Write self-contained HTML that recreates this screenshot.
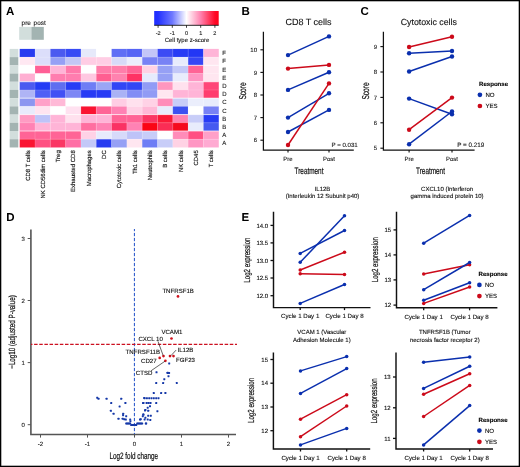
<!DOCTYPE html><html><head><meta charset="utf-8"><style>html,body{margin:0;padding:0;background:#fff;}svg{display:block;will-change:transform;}text{text-rendering:geometricPrecision;}text{font-family:"Liberation Sans",sans-serif;}</style></head><body>
<svg width="520" height="467" viewBox="0 0 520 467">
<rect x="0" y="0" width="520" height="467" fill="#fff"/>
<text x="5.9" y="15.0" font-size="11.5" font-weight="bold" fill="#000">A</text>
<text x="241.6" y="15.1" font-size="11.5" font-weight="bold" fill="#000">B</text>
<text x="360.4" y="15.1" font-size="11.5" font-weight="bold" fill="#000">C</text>
<text x="6.3" y="220.7" font-size="11.5" font-weight="bold" fill="#000">D</text>
<text x="241.6" y="220.8" font-size="11.5" font-weight="bold" fill="#000">E</text>
<g>
<rect x="9.7" y="48.90" width="8.6" height="8.26" fill="rgb(210, 222, 220)"/>
<rect x="19.70" y="48.90" width="15.36" height="8.26" fill="rgb(40, 60, 240)"/>
<rect x="35.01" y="48.90" width="15.36" height="8.26" fill="rgb(220, 222, 250)"/>
<rect x="50.32" y="48.90" width="15.36" height="8.26" fill="rgb(75, 90, 240)"/>
<rect x="65.63" y="48.90" width="15.36" height="8.26" fill="rgb(55, 75, 245)"/>
<rect x="80.94" y="48.90" width="15.36" height="8.26" fill="rgb(230, 233, 250)"/>
<rect x="96.25" y="48.90" width="15.36" height="8.26" fill="rgb(255, 255, 255)"/>
<rect x="111.56" y="48.90" width="15.36" height="8.26" fill="rgb(95, 110, 245)"/>
<rect x="126.87" y="48.90" width="15.36" height="8.26" fill="rgb(85, 100, 245)"/>
<rect x="142.18" y="48.90" width="15.36" height="8.26" fill="rgb(195, 198, 248)"/>
<rect x="157.49" y="48.90" width="15.36" height="8.26" fill="rgb(60, 75, 245)"/>
<rect x="172.80" y="48.90" width="15.36" height="8.26" fill="rgb(40, 60, 245)"/>
<rect x="188.11" y="48.90" width="15.36" height="8.26" fill="rgb(35, 55, 245)"/>
<rect x="203.42" y="48.90" width="15.36" height="8.26" fill="rgb(255, 180, 215)"/>
<rect x="9.7" y="57.11" width="8.6" height="8.26" fill="rgb(163, 180, 178)"/>
<rect x="19.70" y="57.11" width="15.36" height="8.26" fill="rgb(255, 232, 242)"/>
<rect x="35.01" y="57.11" width="15.36" height="8.26" fill="rgb(220, 222, 250)"/>
<rect x="50.32" y="57.11" width="15.36" height="8.26" fill="rgb(150, 160, 245)"/>
<rect x="65.63" y="57.11" width="15.36" height="8.26" fill="rgb(195, 198, 245)"/>
<rect x="80.94" y="57.11" width="15.36" height="8.26" fill="rgb(255, 205, 228)"/>
<rect x="96.25" y="57.11" width="15.36" height="8.26" fill="rgb(255, 205, 228)"/>
<rect x="111.56" y="57.11" width="15.36" height="8.26" fill="rgb(215, 218, 248)"/>
<rect x="126.87" y="57.11" width="15.36" height="8.26" fill="rgb(235, 237, 252)"/>
<rect x="142.18" y="57.11" width="15.36" height="8.26" fill="rgb(120, 130, 245)"/>
<rect x="157.49" y="57.11" width="15.36" height="8.26" fill="rgb(120, 130, 245)"/>
<rect x="172.80" y="57.11" width="15.36" height="8.26" fill="rgb(232, 235, 252)"/>
<rect x="188.11" y="57.11" width="15.36" height="8.26" fill="rgb(55, 70, 245)"/>
<rect x="203.42" y="57.11" width="15.36" height="8.26" fill="rgb(255, 230, 240)"/>
<rect x="9.7" y="65.32" width="8.6" height="8.26" fill="rgb(210, 222, 220)"/>
<rect x="19.70" y="65.32" width="15.36" height="8.26" fill="rgb(255, 255, 255)"/>
<rect x="35.01" y="65.32" width="15.36" height="8.26" fill="rgb(255, 95, 150)"/>
<rect x="50.32" y="65.32" width="15.36" height="8.26" fill="rgb(255, 180, 215)"/>
<rect x="65.63" y="65.32" width="15.36" height="8.26" fill="rgb(255, 120, 170)"/>
<rect x="80.94" y="65.32" width="15.36" height="8.26" fill="rgb(255, 255, 255)"/>
<rect x="96.25" y="65.32" width="15.36" height="8.26" fill="rgb(255, 125, 170)"/>
<rect x="111.56" y="65.32" width="15.36" height="8.26" fill="rgb(255, 125, 170)"/>
<rect x="126.87" y="65.32" width="15.36" height="8.26" fill="rgb(255, 100, 150)"/>
<rect x="142.18" y="65.32" width="15.36" height="8.26" fill="rgb(255, 210, 228)"/>
<rect x="157.49" y="65.32" width="15.36" height="8.26" fill="rgb(150, 160, 245)"/>
<rect x="172.80" y="65.32" width="15.36" height="8.26" fill="rgb(195, 200, 248)"/>
<rect x="188.11" y="65.32" width="15.36" height="8.26" fill="rgb(255, 100, 150)"/>
<rect x="203.42" y="65.32" width="15.36" height="8.26" fill="rgb(255, 230, 240)"/>
<rect x="9.7" y="73.53" width="8.6" height="8.26" fill="rgb(163, 180, 178)"/>
<rect x="19.70" y="73.53" width="15.36" height="8.26" fill="rgb(255, 175, 210)"/>
<rect x="35.01" y="73.53" width="15.36" height="8.26" fill="rgb(255, 255, 255)"/>
<rect x="50.32" y="73.53" width="15.36" height="8.26" fill="rgb(255, 125, 175)"/>
<rect x="65.63" y="73.53" width="15.36" height="8.26" fill="rgb(255, 125, 175)"/>
<rect x="80.94" y="73.53" width="15.36" height="8.26" fill="rgb(255, 200, 225)"/>
<rect x="96.25" y="73.53" width="15.36" height="8.26" fill="rgb(255, 95, 145)"/>
<rect x="111.56" y="73.53" width="15.36" height="8.26" fill="rgb(255, 130, 175)"/>
<rect x="126.87" y="73.53" width="15.36" height="8.26" fill="rgb(255, 50, 100)"/>
<rect x="142.18" y="73.53" width="15.36" height="8.26" fill="rgb(230, 235, 252)"/>
<rect x="157.49" y="73.53" width="15.36" height="8.26" fill="rgb(150, 160, 245)"/>
<rect x="172.80" y="73.53" width="15.36" height="8.26" fill="rgb(232, 236, 252)"/>
<rect x="188.11" y="73.53" width="15.36" height="8.26" fill="rgb(255, 150, 195)"/>
<rect x="203.42" y="73.53" width="15.36" height="8.26" fill="rgb(255, 230, 240)"/>
<rect x="9.7" y="81.74" width="8.6" height="8.26" fill="rgb(210, 222, 220)"/>
<rect x="19.70" y="81.74" width="15.36" height="8.26" fill="rgb(75, 90, 240)"/>
<rect x="35.01" y="81.74" width="15.36" height="8.26" fill="rgb(35, 60, 245)"/>
<rect x="50.32" y="81.74" width="15.36" height="8.26" fill="rgb(95, 110, 240)"/>
<rect x="65.63" y="81.74" width="15.36" height="8.26" fill="rgb(40, 60, 245)"/>
<rect x="80.94" y="81.74" width="15.36" height="8.26" fill="rgb(110, 125, 245)"/>
<rect x="96.25" y="81.74" width="15.36" height="8.26" fill="rgb(155, 165, 245)"/>
<rect x="111.56" y="81.74" width="15.36" height="8.26" fill="rgb(50, 70, 245)"/>
<rect x="126.87" y="81.74" width="15.36" height="8.26" fill="rgb(50, 70, 245)"/>
<rect x="142.18" y="81.74" width="15.36" height="8.26" fill="rgb(145, 155, 245)"/>
<rect x="157.49" y="81.74" width="15.36" height="8.26" fill="rgb(255, 150, 190)"/>
<rect x="172.80" y="81.74" width="15.36" height="8.26" fill="rgb(255, 225, 238)"/>
<rect x="188.11" y="81.74" width="15.36" height="8.26" fill="rgb(255, 180, 215)"/>
<rect x="203.42" y="81.74" width="15.36" height="8.26" fill="rgb(255, 70, 120)"/>
<rect x="9.7" y="89.95" width="8.6" height="8.26" fill="rgb(163, 180, 178)"/>
<rect x="19.70" y="89.95" width="15.36" height="8.26" fill="rgb(175, 180, 245)"/>
<rect x="35.01" y="89.95" width="15.36" height="8.26" fill="rgb(80, 95, 245)"/>
<rect x="50.32" y="89.95" width="15.36" height="8.26" fill="rgb(65, 80, 245)"/>
<rect x="65.63" y="89.95" width="15.36" height="8.26" fill="rgb(125, 135, 245)"/>
<rect x="80.94" y="89.95" width="15.36" height="8.26" fill="rgb(40, 60, 245)"/>
<rect x="96.25" y="89.95" width="15.36" height="8.26" fill="rgb(40, 60, 245)"/>
<rect x="111.56" y="89.95" width="15.36" height="8.26" fill="rgb(170, 178, 245)"/>
<rect x="126.87" y="89.95" width="15.36" height="8.26" fill="rgb(130, 140, 245)"/>
<rect x="142.18" y="89.95" width="15.36" height="8.26" fill="rgb(145, 155, 245)"/>
<rect x="157.49" y="89.95" width="15.36" height="8.26" fill="rgb(255, 230, 240)"/>
<rect x="172.80" y="89.95" width="15.36" height="8.26" fill="rgb(255, 180, 215)"/>
<rect x="188.11" y="89.95" width="15.36" height="8.26" fill="rgb(255, 180, 215)"/>
<rect x="203.42" y="89.95" width="15.36" height="8.26" fill="rgb(255, 60, 110)"/>
<rect x="9.7" y="98.16" width="8.6" height="8.26" fill="rgb(210, 222, 220)"/>
<rect x="19.70" y="98.16" width="15.36" height="8.26" fill="rgb(140, 150, 240)"/>
<rect x="35.01" y="98.16" width="15.36" height="8.26" fill="rgb(255, 160, 200)"/>
<rect x="50.32" y="98.16" width="15.36" height="8.26" fill="rgb(255, 185, 215)"/>
<rect x="65.63" y="98.16" width="15.36" height="8.26" fill="rgb(255, 255, 255)"/>
<rect x="80.94" y="98.16" width="15.36" height="8.26" fill="rgb(255, 255, 255)"/>
<rect x="96.25" y="98.16" width="15.36" height="8.26" fill="rgb(255, 255, 255)"/>
<rect x="111.56" y="98.16" width="15.36" height="8.26" fill="rgb(255, 205, 228)"/>
<rect x="126.87" y="98.16" width="15.36" height="8.26" fill="rgb(255, 225, 238)"/>
<rect x="142.18" y="98.16" width="15.36" height="8.26" fill="rgb(255, 210, 230)"/>
<rect x="157.49" y="98.16" width="15.36" height="8.26" fill="rgb(255, 140, 185)"/>
<rect x="172.80" y="98.16" width="15.36" height="8.26" fill="rgb(200, 205, 248)"/>
<rect x="188.11" y="98.16" width="15.36" height="8.26" fill="rgb(235, 238, 252)"/>
<rect x="203.42" y="98.16" width="15.36" height="8.26" fill="rgb(232, 236, 252)"/>
<rect x="9.7" y="106.37" width="8.6" height="8.26" fill="rgb(163, 180, 178)"/>
<rect x="19.70" y="106.37" width="15.36" height="8.26" fill="rgb(232, 235, 252)"/>
<rect x="35.01" y="106.37" width="15.36" height="8.26" fill="rgb(255, 228, 240)"/>
<rect x="50.32" y="106.37" width="15.36" height="8.26" fill="rgb(255, 255, 255)"/>
<rect x="65.63" y="106.37" width="15.36" height="8.26" fill="rgb(255, 225, 240)"/>
<rect x="80.94" y="106.37" width="15.36" height="8.26" fill="rgb(250, 20, 50)"/>
<rect x="96.25" y="106.37" width="15.36" height="8.26" fill="rgb(255, 100, 150)"/>
<rect x="111.56" y="106.37" width="15.36" height="8.26" fill="rgb(255, 130, 180)"/>
<rect x="126.87" y="106.37" width="15.36" height="8.26" fill="rgb(255, 210, 230)"/>
<rect x="142.18" y="106.37" width="15.36" height="8.26" fill="rgb(255, 185, 215)"/>
<rect x="157.49" y="106.37" width="15.36" height="8.26" fill="rgb(232, 236, 252)"/>
<rect x="172.80" y="106.37" width="15.36" height="8.26" fill="rgb(60, 80, 240)"/>
<rect x="188.11" y="106.37" width="15.36" height="8.26" fill="rgb(255, 255, 255)"/>
<rect x="203.42" y="106.37" width="15.36" height="8.26" fill="rgb(120, 130, 245)"/>
<rect x="9.7" y="114.58" width="8.6" height="8.26" fill="rgb(210, 222, 220)"/>
<rect x="19.70" y="114.58" width="15.36" height="8.26" fill="rgb(255, 155, 195)"/>
<rect x="35.01" y="114.58" width="15.36" height="8.26" fill="rgb(190, 195, 248)"/>
<rect x="50.32" y="114.58" width="15.36" height="8.26" fill="rgb(255, 180, 215)"/>
<rect x="65.63" y="114.58" width="15.36" height="8.26" fill="rgb(255, 225, 238)"/>
<rect x="80.94" y="114.58" width="15.36" height="8.26" fill="rgb(255, 180, 215)"/>
<rect x="96.25" y="114.58" width="15.36" height="8.26" fill="rgb(255, 180, 215)"/>
<rect x="111.56" y="114.58" width="15.36" height="8.26" fill="rgb(255, 100, 150)"/>
<rect x="126.87" y="114.58" width="15.36" height="8.26" fill="rgb(255, 100, 150)"/>
<rect x="142.18" y="114.58" width="15.36" height="8.26" fill="rgb(250, 55, 100)"/>
<rect x="157.49" y="114.58" width="15.36" height="8.26" fill="rgb(250, 25, 55)"/>
<rect x="172.80" y="114.58" width="15.36" height="8.26" fill="rgb(255, 130, 175)"/>
<rect x="188.11" y="114.58" width="15.36" height="8.26" fill="rgb(200, 205, 248)"/>
<rect x="203.42" y="114.58" width="15.36" height="8.26" fill="rgb(40, 60, 245)"/>
<rect x="9.7" y="122.79" width="8.6" height="8.26" fill="rgb(163, 180, 178)"/>
<rect x="19.70" y="122.79" width="15.36" height="8.26" fill="rgb(255, 130, 180)"/>
<rect x="35.01" y="122.79" width="15.36" height="8.26" fill="rgb(255, 180, 215)"/>
<rect x="50.32" y="122.79" width="15.36" height="8.26" fill="rgb(255, 180, 215)"/>
<rect x="65.63" y="122.79" width="15.36" height="8.26" fill="rgb(255, 180, 215)"/>
<rect x="80.94" y="122.79" width="15.36" height="8.26" fill="rgb(255, 110, 160)"/>
<rect x="96.25" y="122.79" width="15.36" height="8.26" fill="rgb(255, 130, 180)"/>
<rect x="111.56" y="122.79" width="15.36" height="8.26" fill="rgb(250, 50, 100)"/>
<rect x="126.87" y="122.79" width="15.36" height="8.26" fill="rgb(255, 130, 180)"/>
<rect x="142.18" y="122.79" width="15.36" height="8.26" fill="rgb(250, 5, 20)"/>
<rect x="157.49" y="122.79" width="15.36" height="8.26" fill="rgb(250, 45, 85)"/>
<rect x="172.80" y="122.79" width="15.36" height="8.26" fill="rgb(245, 10, 30)"/>
<rect x="188.11" y="122.79" width="15.36" height="8.26" fill="rgb(232, 236, 252)"/>
<rect x="203.42" y="122.79" width="15.36" height="8.26" fill="rgb(70, 90, 240)"/>
<rect x="9.7" y="131.00" width="8.6" height="8.26" fill="rgb(210, 222, 220)"/>
<rect x="19.70" y="131.00" width="15.36" height="8.26" fill="rgb(255, 100, 150)"/>
<rect x="35.01" y="131.00" width="15.36" height="8.26" fill="rgb(255, 100, 150)"/>
<rect x="50.32" y="131.00" width="15.36" height="8.26" fill="rgb(255, 100, 150)"/>
<rect x="65.63" y="131.00" width="15.36" height="8.26" fill="rgb(255, 100, 150)"/>
<rect x="80.94" y="131.00" width="15.36" height="8.26" fill="rgb(255, 210, 230)"/>
<rect x="96.25" y="131.00" width="15.36" height="8.26" fill="rgb(232, 235, 252)"/>
<rect x="111.56" y="131.00" width="15.36" height="8.26" fill="rgb(215, 218, 250)"/>
<rect x="126.87" y="131.00" width="15.36" height="8.26" fill="rgb(190, 195, 248)"/>
<rect x="142.18" y="131.00" width="15.36" height="8.26" fill="rgb(200, 205, 248)"/>
<rect x="157.49" y="131.00" width="15.36" height="8.26" fill="rgb(255, 255, 255)"/>
<rect x="172.80" y="131.00" width="15.36" height="8.26" fill="rgb(255, 140, 185)"/>
<rect x="188.11" y="131.00" width="15.36" height="8.26" fill="rgb(255, 80, 130)"/>
<rect x="203.42" y="131.00" width="15.36" height="8.26" fill="rgb(255, 160, 200)"/>
<rect x="9.7" y="139.21" width="8.6" height="8.26" fill="rgb(163, 180, 178)"/>
<rect x="19.70" y="139.21" width="15.36" height="8.26" fill="rgb(250, 20, 50)"/>
<rect x="35.01" y="139.21" width="15.36" height="8.26" fill="rgb(255, 80, 130)"/>
<rect x="50.32" y="139.21" width="15.36" height="8.26" fill="rgb(250, 55, 100)"/>
<rect x="65.63" y="139.21" width="15.36" height="8.26" fill="rgb(255, 110, 165)"/>
<rect x="80.94" y="139.21" width="15.36" height="8.26" fill="rgb(195, 200, 248)"/>
<rect x="96.25" y="139.21" width="15.36" height="8.26" fill="rgb(40, 60, 240)"/>
<rect x="111.56" y="139.21" width="15.36" height="8.26" fill="rgb(150, 160, 245)"/>
<rect x="126.87" y="139.21" width="15.36" height="8.26" fill="rgb(255, 230, 240)"/>
<rect x="142.18" y="139.21" width="15.36" height="8.26" fill="rgb(110, 125, 245)"/>
<rect x="157.49" y="139.21" width="15.36" height="8.26" fill="rgb(200, 205, 248)"/>
<rect x="172.80" y="139.21" width="15.36" height="8.26" fill="rgb(255, 210, 228)"/>
<rect x="188.11" y="139.21" width="15.36" height="8.26" fill="rgb(255, 150, 195)"/>
<rect x="203.42" y="139.21" width="15.36" height="8.26" fill="rgb(255, 170, 210)"/>
<line x1="35.01" y1="48.9" x2="35.01" y2="147.42" stroke="#fff" stroke-width="0.3" stroke-opacity="0.5"/>
<line x1="50.32" y1="48.9" x2="50.32" y2="147.42" stroke="#fff" stroke-width="0.3" stroke-opacity="0.5"/>
<line x1="65.63" y1="48.9" x2="65.63" y2="147.42" stroke="#fff" stroke-width="0.3" stroke-opacity="0.5"/>
<line x1="80.94" y1="48.9" x2="80.94" y2="147.42" stroke="#fff" stroke-width="0.3" stroke-opacity="0.5"/>
<line x1="96.25" y1="48.9" x2="96.25" y2="147.42" stroke="#fff" stroke-width="0.3" stroke-opacity="0.5"/>
<line x1="111.56" y1="48.9" x2="111.56" y2="147.42" stroke="#fff" stroke-width="0.3" stroke-opacity="0.5"/>
<line x1="126.87" y1="48.9" x2="126.87" y2="147.42" stroke="#fff" stroke-width="0.3" stroke-opacity="0.5"/>
<line x1="142.18" y1="48.9" x2="142.18" y2="147.42" stroke="#fff" stroke-width="0.3" stroke-opacity="0.5"/>
<line x1="157.49" y1="48.9" x2="157.49" y2="147.42" stroke="#fff" stroke-width="0.3" stroke-opacity="0.5"/>
<line x1="172.80" y1="48.9" x2="172.80" y2="147.42" stroke="#fff" stroke-width="0.3" stroke-opacity="0.5"/>
<line x1="188.11" y1="48.9" x2="188.11" y2="147.42" stroke="#fff" stroke-width="0.3" stroke-opacity="0.5"/>
<line x1="203.42" y1="48.9" x2="203.42" y2="147.42" stroke="#fff" stroke-width="0.3" stroke-opacity="0.5"/>
<line x1="19.7" y1="57.11" x2="218.73" y2="57.11" stroke="#fff" stroke-width="0.15"/>
<line x1="19.7" y1="65.32" x2="218.73" y2="65.32" stroke="#fff" stroke-width="0.7"/>
<line x1="19.7" y1="73.53" x2="218.73" y2="73.53" stroke="#fff" stroke-width="0.15"/>
<line x1="19.7" y1="81.74" x2="218.73" y2="81.74" stroke="#fff" stroke-width="0.7"/>
<line x1="19.7" y1="89.95" x2="218.73" y2="89.95" stroke="#fff" stroke-width="0.15"/>
<line x1="19.7" y1="98.16" x2="218.73" y2="98.16" stroke="#fff" stroke-width="0.7"/>
<line x1="19.7" y1="106.37" x2="218.73" y2="106.37" stroke="#fff" stroke-width="0.15"/>
<line x1="19.7" y1="114.58" x2="218.73" y2="114.58" stroke="#fff" stroke-width="0.7"/>
<line x1="19.7" y1="122.79" x2="218.73" y2="122.79" stroke="#fff" stroke-width="0.15"/>
<line x1="19.7" y1="131.00" x2="218.73" y2="131.00" stroke="#fff" stroke-width="0.7"/>
<line x1="19.7" y1="139.21" x2="218.73" y2="139.21" stroke="#fff" stroke-width="0.15"/>
</g>
<text x="222.2" y="55.105" font-size="6" text-anchor="start" fill="#1a1a1a" stroke="#1a1a1a" stroke-width="0.12" >F</text>
<text x="222.2" y="63.315000000000005" font-size="6" text-anchor="start" fill="#1a1a1a" stroke="#1a1a1a" stroke-width="0.12" >F</text>
<text x="222.2" y="71.52499999999999" font-size="6" text-anchor="start" fill="#1a1a1a" stroke="#1a1a1a" stroke-width="0.12" >E</text>
<text x="222.2" y="79.735" font-size="6" text-anchor="start" fill="#1a1a1a" stroke="#1a1a1a" stroke-width="0.12" >E</text>
<text x="222.2" y="87.94500000000001" font-size="6" text-anchor="start" fill="#1a1a1a" stroke="#1a1a1a" stroke-width="0.12" >D</text>
<text x="222.2" y="96.155" font-size="6" text-anchor="start" fill="#1a1a1a" stroke="#1a1a1a" stroke-width="0.12" >D</text>
<text x="222.2" y="104.365" font-size="6" text-anchor="start" fill="#1a1a1a" stroke="#1a1a1a" stroke-width="0.12" >C</text>
<text x="222.2" y="112.575" font-size="6" text-anchor="start" fill="#1a1a1a" stroke="#1a1a1a" stroke-width="0.12" >C</text>
<text x="222.2" y="120.78500000000001" font-size="6" text-anchor="start" fill="#1a1a1a" stroke="#1a1a1a" stroke-width="0.12" >B</text>
<text x="222.2" y="128.99500000000003" font-size="6" text-anchor="start" fill="#1a1a1a" stroke="#1a1a1a" stroke-width="0.12" >B</text>
<text x="222.2" y="137.20499999999998" font-size="6" text-anchor="start" fill="#1a1a1a" stroke="#1a1a1a" stroke-width="0.12" >A</text>
<text x="222.2" y="145.415" font-size="6" text-anchor="start" fill="#1a1a1a" stroke="#1a1a1a" stroke-width="0.12" >A</text>
<text transform="translate(29.55,150.3) rotate(-90)" font-size="5.95" text-anchor="end" fill="#111" stroke="#111" stroke-width="0.15">CD8 T cells</text>
<text transform="translate(44.87,150.3) rotate(-90)" font-size="5.95" text-anchor="end" fill="#111" stroke="#111" stroke-width="0.15">NK CD56dim cells</text>
<text transform="translate(60.18,150.3) rotate(-90)" font-size="5.95" text-anchor="end" fill="#111" stroke="#111" stroke-width="0.15">Treg</text>
<text transform="translate(75.48,150.3) rotate(-90)" font-size="5.95" text-anchor="end" fill="#111" stroke="#111" stroke-width="0.15">Exhausted CD8</text>
<text transform="translate(90.80,150.3) rotate(-90)" font-size="5.95" text-anchor="end" fill="#111" stroke="#111" stroke-width="0.15">Macrophages</text>
<text transform="translate(106.11,150.3) rotate(-90)" font-size="5.95" text-anchor="end" fill="#111" stroke="#111" stroke-width="0.15">DC</text>
<text transform="translate(121.42,150.3) rotate(-90)" font-size="5.95" text-anchor="end" fill="#111" stroke="#111" stroke-width="0.15">Cytotoxic cells</text>
<text transform="translate(136.72,150.3) rotate(-90)" font-size="5.95" text-anchor="end" fill="#111" stroke="#111" stroke-width="0.15">Th1 cells</text>
<text transform="translate(152.03,150.3) rotate(-90)" font-size="5.95" text-anchor="end" fill="#111" stroke="#111" stroke-width="0.15">Neutrophils</text>
<text transform="translate(167.34,150.3) rotate(-90)" font-size="5.95" text-anchor="end" fill="#111" stroke="#111" stroke-width="0.15">B cells</text>
<text transform="translate(182.65,150.3) rotate(-90)" font-size="5.95" text-anchor="end" fill="#111" stroke="#111" stroke-width="0.15">NK cells</text>
<text transform="translate(197.96,150.3) rotate(-90)" font-size="5.95" text-anchor="end" fill="#111" stroke="#111" stroke-width="0.15">CD45</text>
<text transform="translate(213.27,150.3) rotate(-90)" font-size="5.95" text-anchor="end" fill="#111" stroke="#111" stroke-width="0.15">T cells</text>
<rect x="19.2" y="26.9" width="12.2" height="12.9" fill="rgb(210, 222, 220)"/>
<rect x="31.4" y="26.9" width="12.4" height="12.9" fill="rgb(163, 180, 178)"/>
<text x="21.6" y="24.7" font-size="6.4" text-anchor="start" fill="#1a1a1a" stroke="#1a1a1a" stroke-width="0.12" >pre</text>
<text x="33.6" y="24.7" font-size="6.4" text-anchor="start" fill="#1a1a1a" stroke="#1a1a1a" stroke-width="0.12" >post</text>
<defs><linearGradient id="cb" x1="0" x2="1" y1="0" y2="0"><stop offset="0" stop-color="rgb(30,45,255)"/><stop offset="0.06" stop-color="rgb(35,50,255)"/><stop offset="0.28" stop-color="rgb(110,120,255)"/><stop offset="0.5" stop-color="rgb(255,255,255)"/><stop offset="0.72" stop-color="rgb(255,130,175)"/><stop offset="0.94" stop-color="rgb(255,10,40)"/><stop offset="1" stop-color="rgb(255,0,25)"/></linearGradient></defs>
<rect x="154.2" y="11" width="64.5" height="14.2" fill="url(#cb)"/>
<line x1="154.2" y1="25.3" x2="218.7" y2="25.3" stroke="#111" stroke-width="0.9"/>
<line x1="158.1" y1="25.2" x2="158.1" y2="27.8" stroke="#111" stroke-width="0.8"/>
<text x="158.1" y="34.8" font-size="5.5" text-anchor="middle" fill="#1a1a1a" stroke="#1a1a1a" stroke-width="0.12" >-2</text>
<line x1="172.3" y1="25.2" x2="172.3" y2="27.8" stroke="#111" stroke-width="0.8"/>
<text x="172.3" y="34.8" font-size="5.5" text-anchor="middle" fill="#1a1a1a" stroke="#1a1a1a" stroke-width="0.12" >-1</text>
<line x1="186.5" y1="25.2" x2="186.5" y2="27.8" stroke="#111" stroke-width="0.8"/>
<text x="186.5" y="34.8" font-size="5.5" text-anchor="middle" fill="#1a1a1a" stroke="#1a1a1a" stroke-width="0.12" >0</text>
<line x1="200.7" y1="25.2" x2="200.7" y2="27.8" stroke="#111" stroke-width="0.8"/>
<text x="200.7" y="34.8" font-size="5.5" text-anchor="middle" fill="#1a1a1a" stroke="#1a1a1a" stroke-width="0.12" >1</text>
<line x1="214.9" y1="25.2" x2="214.9" y2="27.8" stroke="#111" stroke-width="0.8"/>
<text x="214.9" y="34.8" font-size="5.5" text-anchor="middle" fill="#1a1a1a" stroke="#1a1a1a" stroke-width="0.12" >2</text>
<text x="187.0" y="41.9" font-size="6.0" text-anchor="middle" fill="#1a1a1a" stroke="#1a1a1a" stroke-width="0.12" >Cell type z-score</text>
<path d="M263.4,31.7 V150.1 H353.8" fill="none" stroke="#111" stroke-width="1.25"/>
<line x1="260.4" y1="49.8" x2="263.4" y2="49.8" stroke="#111" stroke-width="1.125"/>
<line x1="260.4" y1="72.4" x2="263.4" y2="72.4" stroke="#111" stroke-width="1.125"/>
<line x1="260.4" y1="95.0" x2="263.4" y2="95.0" stroke="#111" stroke-width="1.125"/>
<line x1="260.4" y1="117.6" x2="263.4" y2="117.6" stroke="#111" stroke-width="1.125"/>
<line x1="260.4" y1="140.2" x2="263.4" y2="140.2" stroke="#111" stroke-width="1.125"/>
<line x1="288" y1="150.1" x2="288" y2="152.6" stroke="#111" stroke-width="1.125"/>
<line x1="329" y1="150.1" x2="329" y2="152.6" stroke="#111" stroke-width="1.125"/>
<text x="257.0" y="51.9" font-size="6" text-anchor="end" fill="#1a1a1a" stroke="#1a1a1a" stroke-width="0.12" >10</text>
<text x="257.0" y="74.5" font-size="6" text-anchor="end" fill="#1a1a1a" stroke="#1a1a1a" stroke-width="0.12" >9</text>
<text x="257.0" y="97.1" font-size="6" text-anchor="end" fill="#1a1a1a" stroke="#1a1a1a" stroke-width="0.12" >8</text>
<text x="257.0" y="119.69999999999999" font-size="6" text-anchor="end" fill="#1a1a1a" stroke="#1a1a1a" stroke-width="0.12" >7</text>
<text x="257.0" y="142.29999999999998" font-size="6" text-anchor="end" fill="#1a1a1a" stroke="#1a1a1a" stroke-width="0.12" >6</text>
<text x="288" y="160.8" font-size="6" text-anchor="middle" fill="#1a1a1a" stroke="#1a1a1a" stroke-width="0.12" >Pre</text>
<text x="329" y="160.8" font-size="6" text-anchor="middle" fill="#1a1a1a" stroke="#1a1a1a" stroke-width="0.12" >Post</text>
<text transform="translate(309,173.7) scale(0.68,1)" font-size="9.4" text-anchor="middle" fill="#111" stroke="#111" stroke-width="0.22">Treatment</text>
<text transform="translate(245.5,91) rotate(-90) scale(0.66,1)" font-size="10" text-anchor="middle" fill="#111" stroke="#111" stroke-width="0.22">Score</text>
<text x="308.5" y="24.6" font-size="9" text-anchor="middle" fill="#111" stroke="#111" stroke-width="0.12" >CD8 T cells</text>
<text x="357.8" y="147.3" font-size="6.15" text-anchor="end" fill="#1a1a1a" stroke="#1a1a1a" stroke-width="0.12" >P = 0.031</text>
<line x1="288" y1="55.1" x2="329" y2="36.4" stroke="#0a2fae" stroke-width="1.5"/>
<line x1="288" y1="68.6" x2="329" y2="64.9" stroke="#cc0a1a" stroke-width="1.5"/>
<line x1="288" y1="89.9" x2="329" y2="72.2" stroke="#0a2fae" stroke-width="1.5"/>
<line x1="288" y1="117.6" x2="329" y2="93.3" stroke="#0a2fae" stroke-width="1.5"/>
<line x1="288" y1="132.0" x2="329" y2="109.9" stroke="#0a2fae" stroke-width="1.5"/>
<line x1="288" y1="145.0" x2="329" y2="83.4" stroke="#cc0a1a" stroke-width="1.5"/>
<circle cx="288" cy="55.1" r="2.2" fill="#0a2fae"/><circle cx="329" cy="36.4" r="2.2" fill="#0a2fae"/>
<circle cx="288" cy="68.6" r="2.2" fill="#cc0a1a"/><circle cx="329" cy="64.9" r="2.2" fill="#cc0a1a"/>
<circle cx="288" cy="89.9" r="2.2" fill="#0a2fae"/><circle cx="329" cy="72.2" r="2.2" fill="#0a2fae"/>
<circle cx="288" cy="117.6" r="2.2" fill="#0a2fae"/><circle cx="329" cy="93.3" r="2.2" fill="#0a2fae"/>
<circle cx="288" cy="132.0" r="2.2" fill="#0a2fae"/><circle cx="329" cy="109.9" r="2.2" fill="#0a2fae"/>
<circle cx="288" cy="145.0" r="2.2" fill="#cc0a1a"/><circle cx="329" cy="83.4" r="2.2" fill="#cc0a1a"/>
<path d="M383.4,31.7 V150.1 H474.6" fill="none" stroke="#111" stroke-width="1.25"/>
<line x1="380.4" y1="46.6" x2="383.4" y2="46.6" stroke="#111" stroke-width="1.125"/>
<line x1="380.4" y1="72.0" x2="383.4" y2="72.0" stroke="#111" stroke-width="1.125"/>
<line x1="380.4" y1="97.4" x2="383.4" y2="97.4" stroke="#111" stroke-width="1.125"/>
<line x1="380.4" y1="122.8" x2="383.4" y2="122.8" stroke="#111" stroke-width="1.125"/>
<line x1="380.4" y1="148.2" x2="383.4" y2="148.2" stroke="#111" stroke-width="1.125"/>
<line x1="409.1" y1="150.1" x2="409.1" y2="152.6" stroke="#111" stroke-width="1.125"/>
<line x1="452" y1="150.1" x2="452" y2="152.6" stroke="#111" stroke-width="1.125"/>
<text x="377.0" y="48.7" font-size="6" text-anchor="end" fill="#1a1a1a" stroke="#1a1a1a" stroke-width="0.12" >9</text>
<text x="377.0" y="74.1" font-size="6" text-anchor="end" fill="#1a1a1a" stroke="#1a1a1a" stroke-width="0.12" >8</text>
<text x="377.0" y="99.5" font-size="6" text-anchor="end" fill="#1a1a1a" stroke="#1a1a1a" stroke-width="0.12" >7</text>
<text x="377.0" y="124.89999999999999" font-size="6" text-anchor="end" fill="#1a1a1a" stroke="#1a1a1a" stroke-width="0.12" >6</text>
<text x="377.0" y="150.29999999999998" font-size="6" text-anchor="end" fill="#1a1a1a" stroke="#1a1a1a" stroke-width="0.12" >5</text>
<text x="409.1" y="160.6" font-size="6" text-anchor="middle" fill="#1a1a1a" stroke="#1a1a1a" stroke-width="0.12" >Pre</text>
<text x="452" y="160.6" font-size="6" text-anchor="middle" fill="#1a1a1a" stroke="#1a1a1a" stroke-width="0.12" >Post</text>
<text transform="translate(430.5,173.7) scale(0.68,1)" font-size="9.4" text-anchor="middle" fill="#111" stroke="#111" stroke-width="0.22">Treatment</text>
<text transform="translate(369.0,91) rotate(-90) scale(0.66,1)" font-size="10" text-anchor="middle" fill="#111" stroke="#111" stroke-width="0.22">Score</text>
<text x="428.8" y="24.6" font-size="8.8" text-anchor="middle" fill="#111" stroke="#111" stroke-width="0.12" >Cytotoxic cells</text>
<text x="484.3" y="147.3" font-size="6.3" text-anchor="end" fill="#1a1a1a" stroke="#1a1a1a" stroke-width="0.12" >P = 0.219</text>
<line x1="409.1" y1="47.0" x2="452" y2="36.8" stroke="#cc0a1a" stroke-width="1.5"/>
<line x1="409.1" y1="53.2" x2="452" y2="51.0" stroke="#0a2fae" stroke-width="1.5"/>
<line x1="409.1" y1="71.5" x2="452" y2="56.5" stroke="#0a2fae" stroke-width="1.5"/>
<line x1="409.1" y1="98.6" x2="452" y2="114.3" stroke="#0a2fae" stroke-width="1.5"/>
<line x1="409.1" y1="129.7" x2="452" y2="97.6" stroke="#cc0a1a" stroke-width="1.5"/>
<line x1="409.1" y1="144.2" x2="452" y2="111.5" stroke="#0a2fae" stroke-width="1.5"/>
<circle cx="409.1" cy="47.0" r="2.2" fill="#cc0a1a"/><circle cx="452" cy="36.8" r="2.2" fill="#cc0a1a"/>
<circle cx="409.1" cy="53.2" r="2.2" fill="#0a2fae"/><circle cx="452" cy="51.0" r="2.2" fill="#0a2fae"/>
<circle cx="409.1" cy="71.5" r="2.2" fill="#0a2fae"/><circle cx="452" cy="56.5" r="2.2" fill="#0a2fae"/>
<circle cx="409.1" cy="98.6" r="2.2" fill="#0a2fae"/><circle cx="452" cy="114.3" r="2.2" fill="#0a2fae"/>
<circle cx="409.1" cy="129.7" r="2.2" fill="#cc0a1a"/><circle cx="452" cy="97.6" r="2.2" fill="#cc0a1a"/>
<circle cx="409.1" cy="144.2" r="2.2" fill="#0a2fae"/><circle cx="452" cy="111.5" r="2.2" fill="#0a2fae"/>
<text x="479" y="86.1" font-size="6.1" text-anchor="start" fill="#000" stroke="#000" stroke-width="0.12" font-weight="bold" >Response</text>
<circle cx="479.9" cy="94.8" r="2.35" fill="#0a2fae"/>
<circle cx="479.9" cy="106.0" r="2.35" fill="#cc0a1a"/>
<text x="485.4" y="97.0" font-size="6.1" text-anchor="start" fill="#111" stroke="#111" stroke-width="0.12" >NO</text>
<text x="485.4" y="108.19999999999999" font-size="6.1" text-anchor="start" fill="#111" stroke="#111" stroke-width="0.12" >YES</text>
<path d="M30.9,229.5 V434.5 H236" fill="none" stroke="#555" stroke-width="1.6"/>
<line x1="27.7" y1="238.5" x2="30.9" y2="238.5" stroke="#555" stroke-width="1"/>
<text x="24.9" y="240.6" font-size="6" text-anchor="end" fill="#2a2a2a" stroke="#2a2a2a" stroke-width="0.12" >3</text>
<line x1="27.7" y1="300.5" x2="30.9" y2="300.5" stroke="#555" stroke-width="1"/>
<text x="24.9" y="302.6" font-size="6" text-anchor="end" fill="#2a2a2a" stroke="#2a2a2a" stroke-width="0.12" >2</text>
<line x1="27.7" y1="362.6" x2="30.9" y2="362.6" stroke="#555" stroke-width="1"/>
<text x="24.9" y="364.70000000000005" font-size="6" text-anchor="end" fill="#2a2a2a" stroke="#2a2a2a" stroke-width="0.12" >1</text>
<line x1="27.7" y1="424.7" x2="30.9" y2="424.7" stroke="#555" stroke-width="1"/>
<text x="24.9" y="426.8" font-size="6" text-anchor="end" fill="#2a2a2a" stroke="#2a2a2a" stroke-width="0.12" >0</text>
<line x1="40.5" y1="434.5" x2="40.5" y2="437.6" stroke="#555" stroke-width="1"/>
<text x="40.5" y="445.5" font-size="6" text-anchor="middle" fill="#2a2a2a" stroke="#2a2a2a" stroke-width="0.12" >-2</text>
<line x1="87.5" y1="434.5" x2="87.5" y2="437.6" stroke="#555" stroke-width="1"/>
<text x="87.5" y="445.5" font-size="6" text-anchor="middle" fill="#2a2a2a" stroke="#2a2a2a" stroke-width="0.12" >-1</text>
<line x1="134.5" y1="434.5" x2="134.5" y2="437.6" stroke="#555" stroke-width="1"/>
<text x="134.5" y="445.5" font-size="6" text-anchor="middle" fill="#2a2a2a" stroke="#2a2a2a" stroke-width="0.12" >0</text>
<line x1="181.5" y1="434.5" x2="181.5" y2="437.6" stroke="#555" stroke-width="1"/>
<text x="181.5" y="445.5" font-size="6" text-anchor="middle" fill="#2a2a2a" stroke="#2a2a2a" stroke-width="0.12" >1</text>
<line x1="228.5" y1="434.5" x2="228.5" y2="437.6" stroke="#555" stroke-width="1"/>
<text x="228.5" y="445.5" font-size="6" text-anchor="middle" fill="#2a2a2a" stroke="#2a2a2a" stroke-width="0.12" >2</text>
<text transform="translate(133.8,458.6) scale(0.68,1)" font-size="9.3" text-anchor="middle" fill="#111" stroke="#111" stroke-width="0.22">Log2 fold change</text>
<text transform="translate(14.7,332) rotate(-90) scale(0.695,1)" font-size="9" text-anchor="middle" fill="#111" stroke="#111" stroke-width="0.22">−Log10 (adjusted P-value)</text>
<line x1="134.4" y1="229" x2="134.4" y2="434" stroke="#1f4fc8" stroke-width="1" stroke-dasharray="3.3 1.7" stroke-dashoffset="1.1"/>
<line x1="31" y1="344.4" x2="237" y2="344.4" stroke="#cc1020" stroke-width="1.1" stroke-dasharray="3.5 1.65" stroke-dashoffset="2.05"/>
<rect x="96.2" y="396.7" width="2" height="2" rx="0.4" fill="#1538a8"/>
<rect x="97.5" y="397.8" width="2" height="2" rx="0.4" fill="#1538a8"/>
<rect x="105.6" y="397.8" width="2" height="2" rx="0.4" fill="#1538a8"/>
<rect x="120.2" y="397.8" width="2" height="2" rx="0.4" fill="#1538a8"/>
<rect x="110.2" y="402.1" width="2" height="2" rx="0.4" fill="#1538a8"/>
<rect x="124.4" y="402.1" width="2" height="2" rx="0.4" fill="#1538a8"/>
<rect x="118.6" y="405.5" width="2" height="2" rx="0.4" fill="#1538a8"/>
<rect x="109.9" y="409.8" width="2" height="2" rx="0.4" fill="#1538a8"/>
<rect x="112.6" y="412.8" width="2" height="2" rx="0.4" fill="#1538a8"/>
<rect x="122.1" y="412.8" width="2" height="2" rx="0.4" fill="#1538a8"/>
<rect x="122.1" y="414.2" width="2" height="2" rx="0.4" fill="#1538a8"/>
<rect x="125.2" y="415.2" width="2" height="2" rx="0.4" fill="#1538a8"/>
<rect x="117.5" y="417.8" width="2" height="2" rx="0.4" fill="#1538a8"/>
<rect x="121.7" y="417.8" width="2" height="2" rx="0.4" fill="#1538a8"/>
<rect x="123.2" y="418.2" width="2" height="2" rx="0.4" fill="#1538a8"/>
<rect x="124.8" y="418.6" width="2" height="2" rx="0.4" fill="#1538a8"/>
<rect x="129.2" y="418.6" width="2" height="2" rx="0.4" fill="#1538a8"/>
<rect x="129.4" y="420.2" width="2" height="2" rx="0.4" fill="#1538a8"/>
<rect x="139.0" y="418.6" width="2" height="2" rx="0.4" fill="#1538a8"/>
<rect x="142.1" y="402.1" width="2" height="2" rx="0.4" fill="#1538a8"/>
<rect x="142.2" y="413.6" width="2" height="2" rx="0.4" fill="#1538a8"/>
<rect x="144.0" y="409.4" width="2" height="2" rx="0.4" fill="#1538a8"/>
<rect x="144.8" y="422.5" width="2" height="2" rx="0.4" fill="#1538a8"/>
<rect x="143.2" y="396.9" width="2" height="2" rx="0.4" fill="#1538a8"/>
<rect x="155.5" y="371.3" width="2" height="2" rx="0.4" fill="#1538a8"/>
<rect x="166.7" y="371.8" width="2" height="2" rx="0.4" fill="#1538a8"/>
<rect x="167.5" y="375.2" width="2" height="2" rx="0.4" fill="#1538a8"/>
<rect x="163.3" y="378.2" width="2" height="2" rx="0.4" fill="#1538a8"/>
<rect x="155.2" y="382.1" width="2" height="2" rx="0.4" fill="#1538a8"/>
<rect x="162.1" y="382.1" width="2" height="2" rx="0.4" fill="#1538a8"/>
<rect x="152.8" y="392.1" width="2" height="2" rx="0.4" fill="#1538a8"/>
<rect x="160.1" y="392.1" width="2" height="2" rx="0.4" fill="#1538a8"/>
<rect x="164.4" y="392.1" width="2" height="2" rx="0.4" fill="#1538a8"/>
<rect x="143.6" y="397.2" width="2" height="2" rx="0.4" fill="#1538a8"/>
<rect x="145.9" y="397.2" width="2" height="2" rx="0.4" fill="#1538a8"/>
<rect x="148.2" y="397.2" width="2" height="2" rx="0.4" fill="#1538a8"/>
<rect x="150.5" y="397.2" width="2" height="2" rx="0.4" fill="#1538a8"/>
<rect x="152.8" y="397.2" width="2" height="2" rx="0.4" fill="#1538a8"/>
<rect x="155.2" y="397.2" width="2" height="2" rx="0.4" fill="#1538a8"/>
<rect x="157.5" y="397.2" width="2" height="2" rx="0.4" fill="#1538a8"/>
<rect x="142.4" y="402.1" width="2" height="2" rx="0.4" fill="#1538a8"/>
<rect x="145.6" y="402.1" width="2" height="2" rx="0.4" fill="#1538a8"/>
<rect x="147.5" y="402.1" width="2" height="2" rx="0.4" fill="#1538a8"/>
<rect x="149.5" y="402.1" width="2" height="2" rx="0.4" fill="#1538a8"/>
<rect x="155.2" y="402.1" width="2" height="2" rx="0.4" fill="#1538a8"/>
<rect x="149.0" y="405.2" width="2" height="2" rx="0.4" fill="#1538a8"/>
<rect x="146.7" y="406.7" width="2" height="2" rx="0.4" fill="#1538a8"/>
<rect x="144.4" y="409.0" width="2" height="2" rx="0.4" fill="#1538a8"/>
<rect x="147.2" y="409.8" width="2" height="2" rx="0.4" fill="#1538a8"/>
<rect x="156.4" y="410.2" width="2" height="2" rx="0.4" fill="#1538a8"/>
<rect x="142.5" y="413.6" width="2" height="2" rx="0.4" fill="#1538a8"/>
<rect x="147.2" y="414.7" width="2" height="2" rx="0.4" fill="#1538a8"/>
<rect x="149.8" y="414.7" width="2" height="2" rx="0.4" fill="#1538a8"/>
<rect x="141.8" y="415.2" width="2" height="2" rx="0.4" fill="#1538a8"/>
<rect x="144.4" y="416.7" width="2" height="2" rx="0.4" fill="#1538a8"/>
<rect x="139.8" y="418.2" width="2" height="2" rx="0.4" fill="#1538a8"/>
<rect x="143.6" y="418.5" width="2" height="2" rx="0.4" fill="#1538a8"/>
<rect x="146.7" y="418.5" width="2" height="2" rx="0.4" fill="#1538a8"/>
<rect x="149.3" y="419.0" width="2" height="2" rx="0.4" fill="#1538a8"/>
<rect x="145.2" y="422.4" width="2" height="2" rx="0.4" fill="#1538a8"/>
<rect x="168.2" y="362.4" width="2" height="2" rx="0.4" fill="#1538a8"/>
<rect x="175.8" y="382.0" width="2" height="2" rx="0.4" fill="#1538a8"/>
<rect x="168.1" y="371.9" width="2" height="2" rx="0.4" fill="#1538a8"/>
<rect x="166.6" y="371.9" width="2" height="2" rx="0.4" fill="#1538a8"/>
<rect x="125.2" y="422.5" width="2" height="2" rx="0.4" fill="#1538a8"/>
<rect x="126.2" y="422.5" width="2" height="2" rx="0.4" fill="#1538a8"/>
<rect x="127.2" y="422.5" width="2" height="2" rx="0.4" fill="#1538a8"/>
<rect x="128.2" y="422.5" width="2" height="2" rx="0.4" fill="#1538a8"/>
<rect x="129.2" y="422.5" width="2" height="2" rx="0.4" fill="#1538a8"/>
<rect x="130.2" y="424.1" width="2" height="2" rx="0.4" fill="#1538a8"/>
<rect x="131.2" y="424.1" width="2" height="2" rx="0.4" fill="#1538a8"/>
<rect x="132.2" y="424.1" width="2" height="2" rx="0.4" fill="#1538a8"/>
<rect x="133.2" y="424.1" width="2" height="2" rx="0.4" fill="#1538a8"/>
<rect x="134.2" y="424.1" width="2" height="2" rx="0.4" fill="#1538a8"/>
<rect x="135.2" y="424.1" width="2" height="2" rx="0.4" fill="#1538a8"/>
<rect x="136.2" y="422.5" width="2" height="2" rx="0.4" fill="#1538a8"/>
<rect x="137.2" y="422.5" width="2" height="2" rx="0.4" fill="#1538a8"/>
<rect x="138.2" y="422.5" width="2" height="2" rx="0.4" fill="#1538a8"/>
<rect x="139.2" y="422.5" width="2" height="2" rx="0.4" fill="#1538a8"/>
<rect x="140.2" y="422.5" width="2" height="2" rx="0.4" fill="#1538a8"/>
<rect x="141.2" y="422.5" width="2" height="2" rx="0.4" fill="#1538a8"/>
<circle cx="178" cy="296.4" r="1.35" fill="#d0101c"/>
<circle cx="171.5" cy="338.5" r="1.35" fill="#d0101c"/>
<circle cx="163.5" cy="356.1" r="1.35" fill="#d0101c"/>
<circle cx="159.7" cy="357.9" r="1.35" fill="#d0101c"/>
<circle cx="170" cy="356.1" r="1.35" fill="#d0101c"/>
<circle cx="173.5" cy="356.1" r="1.35" fill="#d0101c"/>
<circle cx="165.4" cy="360.8" r="1.35" fill="#d0101c"/>
<line x1="158" y1="341.4" x2="163.1" y2="355.4" stroke="#222" stroke-width="0.7"/>
<line x1="176.1" y1="350.1" x2="171" y2="355.6" stroke="#222" stroke-width="0.7"/>
<line x1="151" y1="370.8" x2="165" y2="361.2" stroke="#222" stroke-width="0.7"/>
<text x="162.4" y="293.3" font-size="6.1" text-anchor="start" fill="#111" stroke="#111" stroke-width="0.12" >TNFRSF1B</text>
<text x="161.4" y="334.3" font-size="6.1" text-anchor="start" fill="#111" stroke="#111" stroke-width="0.12" >VCAM1</text>
<text x="138.4" y="340.5" font-size="6.1" text-anchor="start" fill="#111" stroke="#111" stroke-width="0.12" >CXCL 10</text>
<text x="125.6" y="354.3" font-size="6.1" text-anchor="start" fill="#111" stroke="#111" stroke-width="0.12" >TNFRSF11B</text>
<text x="141" y="363" font-size="6.1" text-anchor="start" fill="#111" stroke="#111" stroke-width="0.12" >CD27</text>
<text x="177.5" y="351.9" font-size="6.1" text-anchor="start" fill="#111" stroke="#111" stroke-width="0.12" >IL12B</text>
<text x="176" y="361.8" font-size="6.1" text-anchor="start" fill="#111" stroke="#111" stroke-width="0.12" >FGF23</text>
<text x="135.8" y="375.4" font-size="6.1" text-anchor="start" fill="#111" stroke="#111" stroke-width="0.12" >CTSD</text>
<path d="M273.5,211.7 V307.6 H370.5" fill="none" stroke="#111" stroke-width="1.45"/>
<line x1="270.5" y1="225.4" x2="273.5" y2="225.4" stroke="#111" stroke-width="1.305"/>
<line x1="270.5" y1="242.9" x2="273.5" y2="242.9" stroke="#111" stroke-width="1.305"/>
<line x1="270.5" y1="260.5" x2="273.5" y2="260.5" stroke="#111" stroke-width="1.305"/>
<line x1="270.5" y1="278.0" x2="273.5" y2="278.0" stroke="#111" stroke-width="1.305"/>
<line x1="270.5" y1="295.7" x2="273.5" y2="295.7" stroke="#111" stroke-width="1.305"/>
<line x1="300.2" y1="307.6" x2="300.2" y2="310.1" stroke="#111" stroke-width="1.305"/>
<line x1="344.5" y1="307.6" x2="344.5" y2="310.1" stroke="#111" stroke-width="1.305"/>
<text x="268.1" y="227.5" font-size="6" text-anchor="end" fill="#111" stroke="#111" stroke-width="0.12" >14.0</text>
<text x="268.1" y="245.0" font-size="6" text-anchor="end" fill="#111" stroke="#111" stroke-width="0.12" >13.5</text>
<text x="268.1" y="262.6" font-size="6" text-anchor="end" fill="#111" stroke="#111" stroke-width="0.12" >13.0</text>
<text x="268.1" y="280.1" font-size="6" text-anchor="end" fill="#111" stroke="#111" stroke-width="0.12" >12.5</text>
<text x="268.1" y="297.8" font-size="6" text-anchor="end" fill="#111" stroke="#111" stroke-width="0.12" >12.0</text>
<text x="300.2" y="318.3" font-size="6.15" text-anchor="middle" fill="#111" stroke="#111" stroke-width="0.12" >Cycle 1 Day 1</text>
<text x="344.5" y="318.3" font-size="6.15" text-anchor="middle" fill="#111" stroke="#111" stroke-width="0.12" >Cycle 1 Day 8</text>
<text x="322.5" y="190.7" font-size="6" text-anchor="middle" fill="#111" stroke="#111" stroke-width="0.12" >IL12B</text>
<text x="322.5" y="198.1" font-size="6" text-anchor="middle" fill="#111" stroke="#111" stroke-width="0.12" >(Interleukin 12 Subunit p40)</text>
<text transform="translate(249.8,260.1) rotate(-90) scale(0.7,1)" font-size="8.8" text-anchor="middle" fill="#111" stroke="#111" stroke-width="0.2">Log2 expression</text>
<line x1="300.2" y1="253.4" x2="344.5" y2="230.5" stroke="#0a2fae" stroke-width="1.5"/>
<line x1="300.2" y1="262.3" x2="344.5" y2="215.8" stroke="#0a2fae" stroke-width="1.5"/>
<line x1="300.2" y1="270.0" x2="344.5" y2="252.2" stroke="#cc0a1a" stroke-width="1.5"/>
<line x1="300.2" y1="273.7" x2="344.5" y2="274.5" stroke="#cc0a1a" stroke-width="1.5"/>
<line x1="300.2" y1="303.4" x2="344.5" y2="284.5" stroke="#0a2fae" stroke-width="1.5"/>
<circle cx="300.2" cy="253.4" r="1.75" fill="#0a2fae"/><circle cx="344.5" cy="230.5" r="1.75" fill="#0a2fae"/>
<circle cx="300.2" cy="262.3" r="1.75" fill="#0a2fae"/><circle cx="344.5" cy="215.8" r="1.75" fill="#0a2fae"/>
<circle cx="300.2" cy="270.0" r="1.75" fill="#cc0a1a"/><circle cx="344.5" cy="252.2" r="1.75" fill="#cc0a1a"/>
<circle cx="300.2" cy="273.7" r="1.75" fill="#cc0a1a"/><circle cx="344.5" cy="274.5" r="1.75" fill="#cc0a1a"/>
<circle cx="300.2" cy="303.4" r="1.75" fill="#0a2fae"/><circle cx="344.5" cy="284.5" r="1.75" fill="#0a2fae"/>
<path d="M396.5,211.7 V307.8 H497.4" fill="none" stroke="#111" stroke-width="1.45"/>
<line x1="393.5" y1="229.9" x2="396.5" y2="229.9" stroke="#111" stroke-width="1.305"/>
<line x1="393.5" y1="254.9" x2="396.5" y2="254.9" stroke="#111" stroke-width="1.305"/>
<line x1="393.5" y1="279.9" x2="396.5" y2="279.9" stroke="#111" stroke-width="1.305"/>
<line x1="393.5" y1="305.1" x2="396.5" y2="305.1" stroke="#111" stroke-width="1.305"/>
<line x1="423.7" y1="307.8" x2="423.7" y2="310.3" stroke="#111" stroke-width="1.305"/>
<line x1="469.6" y1="307.8" x2="469.6" y2="310.3" stroke="#111" stroke-width="1.305"/>
<text x="391.1" y="232.0" font-size="6" text-anchor="end" fill="#111" stroke="#111" stroke-width="0.12" >15</text>
<text x="391.1" y="257.0" font-size="6" text-anchor="end" fill="#111" stroke="#111" stroke-width="0.12" >14</text>
<text x="391.1" y="282.0" font-size="6" text-anchor="end" fill="#111" stroke="#111" stroke-width="0.12" >13</text>
<text x="391.1" y="307.20000000000005" font-size="6" text-anchor="end" fill="#111" stroke="#111" stroke-width="0.12" >12</text>
<text x="423.7" y="318.5" font-size="6.15" text-anchor="middle" fill="#111" stroke="#111" stroke-width="0.12" >Cycle 1 Day 1</text>
<text x="469.6" y="318.5" font-size="6.15" text-anchor="middle" fill="#111" stroke="#111" stroke-width="0.12" >Cycle 1 Day 8</text>
<text x="447.1" y="190.7" font-size="6" text-anchor="middle" fill="#111" stroke="#111" stroke-width="0.12" >CXCL10 (Interferon</text>
<text x="447.1" y="198.1" font-size="6" text-anchor="middle" fill="#111" stroke="#111" stroke-width="0.12" >gamma induced protein 10)</text>
<text transform="translate(377.8,259.7) rotate(-90) scale(0.7,1)" font-size="8.8" text-anchor="middle" fill="#111" stroke="#111" stroke-width="0.2">Log2 expression</text>
<line x1="423.7" y1="243.2" x2="469.6" y2="215.4" stroke="#0a2fae" stroke-width="1.5"/>
<line x1="423.7" y1="273.9" x2="469.6" y2="264.7" stroke="#cc0a1a" stroke-width="1.5"/>
<line x1="423.7" y1="289.7" x2="469.6" y2="262.5" stroke="#0a2fae" stroke-width="1.5"/>
<line x1="423.7" y1="300.3" x2="469.6" y2="282.8" stroke="#0a2fae" stroke-width="1.5"/>
<line x1="423.7" y1="303.4" x2="469.6" y2="287.0" stroke="#cc0a1a" stroke-width="1.5"/>
<circle cx="423.7" cy="243.2" r="1.75" fill="#0a2fae"/><circle cx="469.6" cy="215.4" r="1.75" fill="#0a2fae"/>
<circle cx="423.7" cy="273.9" r="1.75" fill="#cc0a1a"/><circle cx="469.6" cy="264.7" r="1.75" fill="#cc0a1a"/>
<circle cx="423.7" cy="289.7" r="1.75" fill="#0a2fae"/><circle cx="469.6" cy="262.5" r="1.75" fill="#0a2fae"/>
<circle cx="423.7" cy="300.3" r="1.75" fill="#0a2fae"/><circle cx="469.6" cy="282.8" r="1.75" fill="#0a2fae"/>
<circle cx="423.7" cy="303.4" r="1.75" fill="#cc0a1a"/><circle cx="469.6" cy="287.0" r="1.75" fill="#cc0a1a"/>
<text x="478.5" y="276.2" font-size="6.1" text-anchor="start" fill="#000" stroke="#000" stroke-width="0.12" font-weight="bold" >Response</text>
<circle cx="479.4" cy="284.9" r="2.35" fill="#0a2fae"/>
<circle cx="479.4" cy="296.09999999999997" r="2.35" fill="#cc0a1a"/>
<text x="484.9" y="287.09999999999997" font-size="6.1" text-anchor="start" fill="#111" stroke="#111" stroke-width="0.12" >NO</text>
<text x="484.9" y="298.3" font-size="6.1" text-anchor="start" fill="#111" stroke="#111" stroke-width="0.12" >YES</text>
<path d="M273.4,352.5 V449.0 H370.2" fill="none" stroke="#111" stroke-width="1.45"/>
<line x1="270.4" y1="359.5" x2="273.4" y2="359.5" stroke="#111" stroke-width="1.305"/>
<line x1="270.4" y1="383.2" x2="273.4" y2="383.2" stroke="#111" stroke-width="1.305"/>
<line x1="270.4" y1="407.0" x2="273.4" y2="407.0" stroke="#111" stroke-width="1.305"/>
<line x1="270.4" y1="430.7" x2="273.4" y2="430.7" stroke="#111" stroke-width="1.305"/>
<line x1="300.5" y1="449.0" x2="300.5" y2="451.5" stroke="#111" stroke-width="1.305"/>
<line x1="346.7" y1="449.0" x2="346.7" y2="451.5" stroke="#111" stroke-width="1.305"/>
<text x="268.0" y="361.6" font-size="6" text-anchor="end" fill="#111" stroke="#111" stroke-width="0.12" >15</text>
<text x="268.0" y="385.3" font-size="6" text-anchor="end" fill="#111" stroke="#111" stroke-width="0.12" >14</text>
<text x="268.0" y="409.1" font-size="6" text-anchor="end" fill="#111" stroke="#111" stroke-width="0.12" >13</text>
<text x="268.0" y="432.8" font-size="6" text-anchor="end" fill="#111" stroke="#111" stroke-width="0.12" >12</text>
<text x="300.5" y="459.6" font-size="6.15" text-anchor="middle" fill="#111" stroke="#111" stroke-width="0.12" >Cycle 1 Day 1</text>
<text x="346.7" y="459.6" font-size="6.15" text-anchor="middle" fill="#111" stroke="#111" stroke-width="0.12" >Cycle 1 Day 8</text>
<text x="321.8" y="334.4" font-size="6" text-anchor="middle" fill="#111" stroke="#111" stroke-width="0.12" >VCAM 1 (Vascular</text>
<text x="321.8" y="341.79999999999995" font-size="6" text-anchor="middle" fill="#111" stroke="#111" stroke-width="0.12" >Adhesion Molecule 1)</text>
<text transform="translate(254.0,400.4) rotate(-90) scale(0.7,1)" font-size="8.8" text-anchor="middle" fill="#111" stroke="#111" stroke-width="0.2">Log2 expression</text>
<line x1="300.5" y1="370.9" x2="346.7" y2="356.6" stroke="#0a2fae" stroke-width="1.5"/>
<line x1="300.5" y1="393.4" x2="346.7" y2="368.6" stroke="#0a2fae" stroke-width="1.5"/>
<line x1="300.5" y1="419.2" x2="346.7" y2="394.7" stroke="#cc0a1a" stroke-width="1.5"/>
<line x1="300.5" y1="436.7" x2="346.7" y2="406.0" stroke="#cc0a1a" stroke-width="1.5"/>
<line x1="300.5" y1="444.9" x2="346.7" y2="428.4" stroke="#0a2fae" stroke-width="1.5"/>
<circle cx="300.5" cy="370.9" r="1.75" fill="#0a2fae"/><circle cx="346.7" cy="356.6" r="1.75" fill="#0a2fae"/>
<circle cx="300.5" cy="393.4" r="1.75" fill="#0a2fae"/><circle cx="346.7" cy="368.6" r="1.75" fill="#0a2fae"/>
<circle cx="300.5" cy="419.2" r="1.75" fill="#cc0a1a"/><circle cx="346.7" cy="394.7" r="1.75" fill="#cc0a1a"/>
<circle cx="300.5" cy="436.7" r="1.75" fill="#cc0a1a"/><circle cx="346.7" cy="406.0" r="1.75" fill="#cc0a1a"/>
<circle cx="300.5" cy="444.9" r="1.75" fill="#0a2fae"/><circle cx="346.7" cy="428.4" r="1.75" fill="#0a2fae"/>
<path d="M396.0,352.5 V449.0 H493.0" fill="none" stroke="#111" stroke-width="1.45"/>
<line x1="393.0" y1="377.0" x2="396.0" y2="377.0" stroke="#111" stroke-width="1.305"/>
<line x1="393.0" y1="407.8" x2="396.0" y2="407.8" stroke="#111" stroke-width="1.305"/>
<line x1="393.0" y1="438.4" x2="396.0" y2="438.4" stroke="#111" stroke-width="1.305"/>
<line x1="423.6" y1="449.0" x2="423.6" y2="451.5" stroke="#111" stroke-width="1.305"/>
<line x1="469.7" y1="449.0" x2="469.7" y2="451.5" stroke="#111" stroke-width="1.305"/>
<text x="390.6" y="379.1" font-size="6" text-anchor="end" fill="#111" stroke="#111" stroke-width="0.12" >13</text>
<text x="390.6" y="409.90000000000003" font-size="6" text-anchor="end" fill="#111" stroke="#111" stroke-width="0.12" >12</text>
<text x="390.6" y="440.5" font-size="6" text-anchor="end" fill="#111" stroke="#111" stroke-width="0.12" >11</text>
<text x="423.6" y="459.6" font-size="6.15" text-anchor="middle" fill="#111" stroke="#111" stroke-width="0.12" >Cycle 1 Day 1</text>
<text x="469.7" y="459.6" font-size="6.15" text-anchor="middle" fill="#111" stroke="#111" stroke-width="0.12" >Cycle 1 Day 8</text>
<text x="444.8" y="334.4" font-size="6" text-anchor="middle" fill="#111" stroke="#111" stroke-width="0.12" >TNFRSF1B (Tumor</text>
<text x="444.8" y="341.79999999999995" font-size="6" text-anchor="middle" fill="#111" stroke="#111" stroke-width="0.12" >necrosis factor receptor 2)</text>
<text transform="translate(377.2,400.9) rotate(-90) scale(0.7,1)" font-size="8.8" text-anchor="middle" fill="#111" stroke="#111" stroke-width="0.2">Log2 expression</text>
<line x1="423.6" y1="362.3" x2="469.7" y2="357.1" stroke="#0a2fae" stroke-width="1.5"/>
<line x1="423.6" y1="388.4" x2="469.7" y2="366.2" stroke="#0a2fae" stroke-width="1.5"/>
<line x1="423.6" y1="394.2" x2="469.7" y2="373.7" stroke="#cc0a1a" stroke-width="1.5"/>
<line x1="423.6" y1="416.5" x2="469.7" y2="385.4" stroke="#cc0a1a" stroke-width="1.5"/>
<line x1="423.6" y1="444.9" x2="469.7" y2="405.6" stroke="#0a2fae" stroke-width="1.5"/>
<circle cx="423.6" cy="362.3" r="1.75" fill="#0a2fae"/><circle cx="469.7" cy="357.1" r="1.75" fill="#0a2fae"/>
<circle cx="423.6" cy="388.4" r="1.75" fill="#0a2fae"/><circle cx="469.7" cy="366.2" r="1.75" fill="#0a2fae"/>
<circle cx="423.6" cy="394.2" r="1.75" fill="#cc0a1a"/><circle cx="469.7" cy="373.7" r="1.75" fill="#cc0a1a"/>
<circle cx="423.6" cy="416.5" r="1.75" fill="#cc0a1a"/><circle cx="469.7" cy="385.4" r="1.75" fill="#cc0a1a"/>
<circle cx="423.6" cy="444.9" r="1.75" fill="#0a2fae"/><circle cx="469.7" cy="405.6" r="1.75" fill="#0a2fae"/>
<text x="478.5" y="421.9" font-size="6.1" text-anchor="start" fill="#000" stroke="#000" stroke-width="0.12" font-weight="bold" >Response</text>
<circle cx="479.4" cy="430.59999999999997" r="2.35" fill="#0a2fae"/>
<circle cx="479.4" cy="441.79999999999995" r="2.35" fill="#cc0a1a"/>
<text x="484.9" y="432.79999999999995" font-size="6.1" text-anchor="start" fill="#111" stroke="#111" stroke-width="0.12" >NO</text>
<text x="484.9" y="444.0" font-size="6.1" text-anchor="start" fill="#111" stroke="#111" stroke-width="0.12" >YES</text>
<rect x="0.5" y="0.5" width="519" height="466" fill="none" stroke="#000" stroke-width="1.6"/>
</svg></body></html>
